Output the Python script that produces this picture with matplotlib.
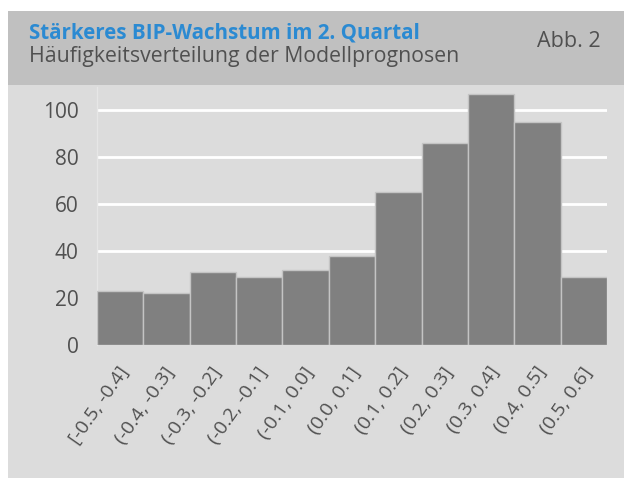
import matplotlib
matplotlib.use("Agg")
import matplotlib.pyplot as plt
from matplotlib.patches import Rectangle

# histogram of model forecasts
bins = ["[-0.5, -0.4]", "(-0.4, -0.3]", "(-0.3, -0.2]", "(-0.2, -0.1]", "(-0.1, 0.0]",
        "(0.0, 0.1]", "(0.1, 0.2]", "(0.2, 0.3]", "(0.3, 0.4]", "(0.4, 0.5]", "(0.5, 0.6]"]
counts = [23, 22, 31, 29, 32, 38, 65, 86, 107, 95, 29]
yticks = [0, 20, 40, 60, 80, 100]

title = "Stärkeres BIP-Wachstum im 2. Quartal"
subtitle = "Häufigkeitsverteilung der Modellprognosen"
figlabel = "Abb. 2"

plt.rcParams['font.family'] = ['Open Sans', 'DejaVu Sans']
W, H = 624, 478
fig = plt.figure(figsize=(W / 100, H / 100), dpi=100)
fig.patch.set_facecolor('white')

# background panels (pixel coords -> figure fraction)
def px(x0, y0, x1, y1, color):
    fig.patches.append(Rectangle((x0 / W, 1 - y1 / H), (x1 - x0) / W, (y1 - y0) / H,
                                 transform=fig.transFigure, facecolor=color,
                                 edgecolor='none', zorder=-10))

px(8, 11, 624, 85, '#c0c0c0')
px(8, 85, 624, 478, '#dcdcdc')

ax = fig.add_axes([96.7 / W, 1 - 345 / H, 510.6 / W, 258.5 / H])
ax.set_facecolor('none')
ax.bar(range(len(counts)), counts, width=1.0, color='#808080',
       edgecolor='#c4c4c4', linewidth=1.0, zorder=3)
ax.set_xlim(-0.5, len(counts) - 0.5)
ax.set_ylim(0, 110)
ax.set_yticks(yticks)
ax.yaxis.grid(True, color='white', linewidth=2, zorder=1)
ax.set_axisbelow(True)
for s in ['top', 'right', 'bottom']:
    ax.spines[s].set_visible(False)
ax.spines['left'].set_color('#e6e6e6')
ax.spines['left'].set_linewidth(1)
ax.tick_params(axis='y', length=0, pad=13, labelsize=15, labelcolor='#505050')
ax.tick_params(axis='x', length=0, pad=17, labelsize=14, labelcolor='#505050')
ax.set_xticks([i + 0.1 for i in range(len(bins))])
ax.set_xticklabels(bins, rotation=55, rotation_mode='anchor', ha='right', va='center')

fig.text(29 / W, 1 - 39 / H, title, color='#2b8ad2', fontsize=14.8,
         fontweight='bold', va='baseline', ha='left')
fig.text(29 / W, 1 - 62 / H, subtitle, color='#505050', fontsize=15.3,
         va='baseline', ha='left')
fig.text(601 / W, 1 - 47 / H, figlabel, color='#505050', fontsize=15.5,
         va='baseline', ha='right')

fig.savefig('out.png', dpi=100)
